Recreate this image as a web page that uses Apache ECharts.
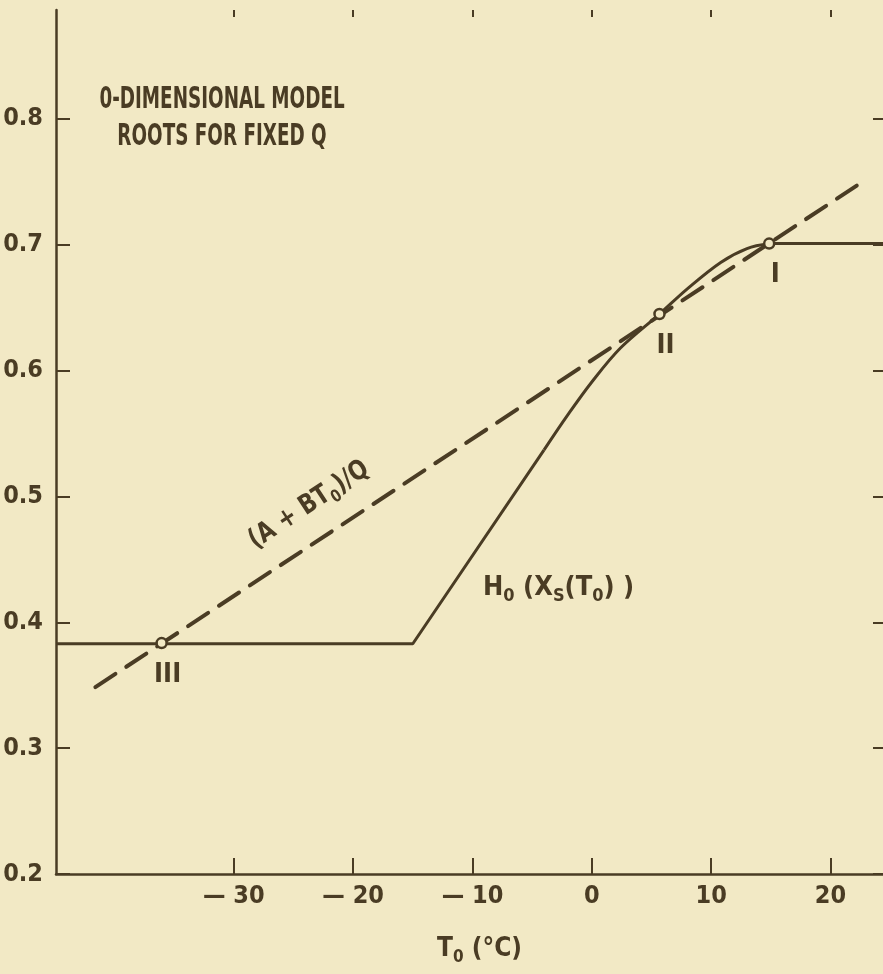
<!DOCTYPE html>
<html>
<head>
<meta charset="utf-8">
<script src="https://cdn.jsdelivr.net/npm/echarts@6/dist/echarts.min.js"></script>
<style>
  html, body { margin: 0; padding: 0; background: #f2e9c5; }
  #chart { width: 883px; height: 974px; }
</style>
</head>
<body>
<div id="chart"></div>
<script>
// ---- data ----
const xTickValues = [-30, -20, -10, 0, 10, 20];
const xTickLabels = ['— 30', '— 20', '— 10', '0', '10', '20'];
const yTickValues = [0.2, 0.3, 0.4, 0.5, 0.6, 0.7, 0.8];
const yTickLabels = ['0.2', '0.3', '0.4', '0.5', '0.6', '0.7', '0.8'];

// H0(Xs(T0)) : flat ice-covered part and linear ramp
const h0Ramp = [[-44.9, 0.383], [-15, 0.383], [-4, 0.537]];
// curved transition to the ice-free plateau
const h0Bend = [[-4, 0.537], [-2, 0.565], [0, 0.591], [2.4, 0.618], [5.67, 0.645], [8, 0.665], [10.8, 0.686], [13, 0.697], [14.9, 0.701]];
const h0Plateau = [[14.9, 0.701], [24.4, 0.701]];

// (A + B T0)/Q  straight dashed line
const balanceLine = [[-41.6, 0.3485], [22.2, 0.747]];

// roots (intersections)
const rootX = [-36.05, 5.67, 14.86];
const rootY = [0.3835, 0.645, 0.701];
const rootNames = ['III', 'II', 'I'];

// ---- styling ----
const INK = '#4a3c24';
const BG = '#f2e9c5';
const FONT = "'Liberation Sans Narrow', 'DejaVu Sans Condensed', 'Liberation Sans', sans-serif";
const xMin = -44.9, xMax = 24.4, yMin = 0.2, yMax = 0.8866;

const chart = echarts.init(document.getElementById('chart'), null, { renderer: 'canvas' });

const lineStyleSolid = { color: INK, width: 3 };

const option = {
  backgroundColor: BG,
  animation: false,
  grid: { left: 56, right: 0, top: 10, bottom: 100, containLabel: false },
  xAxis: [
    {
      type: 'value', position: 'bottom', min: xMin, max: xMax,
      axisLine: { show: true, onZero: false, lineStyle: { color: INK, width: 2.5 } },
      axisTick: { show: true, inside: true, length: 16, customValues: xTickValues, lineStyle: { color: INK, width: 2 } },
      axisLabel: {
        customValues: xTickValues,
        formatter: v => xTickLabels[xTickValues.indexOf(Math.round(v))] ?? '',
        color: INK, fontFamily: FONT, fontWeight: 'bold', fontSize: 25, margin: 10
      },
      splitLine: { show: false },
      name: 'T{s|0} (°C)',
      nameLocation: 'middle', nameGap: 58,
      nameTextStyle: {
        color: INK, fontFamily: FONT, fontWeight: 'bold', fontSize: 26, lineHeight: 34,
        padding: [0, 0, 0, 20],
        rich: { s: { fontFamily: FONT, fontWeight: 'bold', fontSize: 17, lineHeight: 18, verticalAlign: 'bottom', color: INK } }
      }
    },
    {
      type: 'value', position: 'top', min: xMin, max: xMax,
      axisLine: { show: false, onZero: false },
      axisTick: { show: true, inside: true, length: 7, customValues: xTickValues, lineStyle: { color: INK, width: 2 } },
      axisLabel: { show: false },
      splitLine: { show: false }
    }
  ],
  yAxis: [
    {
      type: 'value', position: 'left', min: yMin, max: yMax,
      axisLine: { show: true, onZero: false, lineStyle: { color: INK, width: 2.5 } },
      axisTick: { show: true, inside: true, length: 14, customValues: yTickValues, lineStyle: { color: INK, width: 2 } },
      axisLabel: {
        customValues: yTickValues,
        formatter: v => yTickLabels[yTickValues.findIndex(t => Math.abs(t - v) < 1e-6)] ?? '',
        color: INK, fontFamily: FONT, fontWeight: 'bold', fontSize: 25, margin: 13
      },
      splitLine: { show: false }
    },
    {
      type: 'value', position: 'right', min: yMin, max: yMax,
      axisLine: { show: false, onZero: false },
      axisTick: { show: true, inside: true, length: 10, customValues: yTickValues, lineStyle: { color: INK, width: 2 } },
      axisLabel: { show: false },
      splitLine: { show: false }
    }
  ],
  series: [
    {
      name: 'H0 ramp', type: 'line', data: h0Ramp, showSymbol: false, symbol: 'none',
      lineStyle: lineStyleSolid, z: 3
    },
    {
      name: 'H0 bend', type: 'line', data: h0Bend, showSymbol: false, symbol: 'none', smooth: 0.35,
      lineStyle: lineStyleSolid, z: 3
    },
    {
      name: 'H0 plateau', type: 'line', data: h0Plateau, showSymbol: false, symbol: 'none',
      lineStyle: lineStyleSolid, z: 3
    },
    {
      name: '(A + BT0)/Q', type: 'line', data: balanceLine, showSymbol: false, symbol: 'none',
      lineStyle: { color: INK, width: 4, type: [24, 13], cap: 'round' }, z: 4
    },
    {
      name: 'roots', type: 'scatter', z: 6,
      data: rootX.map((x, i) => ({ value: [x, rootY[i]], name: rootNames[i] })),
      symbol: 'circle', symbolSize: 10,
      itemStyle: { color: BG, borderColor: INK, borderWidth: 2.5, opacity: 1 },
      label: {
        show: true, position: 'bottom', distance: 12, offset: [6, 0],
        formatter: p => p.name,
        color: INK, fontFamily: FONT, fontWeight: 'bold', fontSize: 27
      }
    }
  ],
  graphic: [
    {
      type: 'text', z: 10,
      x: 222, y: 119,
      scaleX: 0.68, scaleY: 1,
      style: {
        text: '0-DIMENSIONAL MODEL\nROOTS FOR FIXED Q',
        align: 'center', verticalAlign: 'middle',
        fill: INK, font: "bold 30px " + FONT, lineHeight: 37
      }
    },
    {
      type: 'text', z: 10,
      x: 309, y: 505,
      rotation: 33.4 * Math.PI / 180,
      scaleX: 0.9,
      style: {
        text: '(A + BT{s|0})/Q',
        align: 'center', verticalAlign: 'middle',
        fill: INK, font: "bold 27px " + FONT, lineHeight: 34,
        rich: { s: { font: "bold 17px " + FONT, lineHeight: 18, verticalAlign: 'bottom', fill: INK } }
      }
    },
    {
      type: 'text', z: 10,
      x: 483, y: 588,
      style: {
        text: 'H{s|0} (X{s|S}(T{s|0}) )',
        align: 'left', verticalAlign: 'middle',
        fill: INK, font: "bold 27px " + FONT, lineHeight: 34,
        rich: { s: { font: "bold 18px " + FONT, lineHeight: 18, verticalAlign: 'bottom', fill: INK } }
      }
    }
  ]
};

chart.setOption(option);
</script>
</body>
</html>
